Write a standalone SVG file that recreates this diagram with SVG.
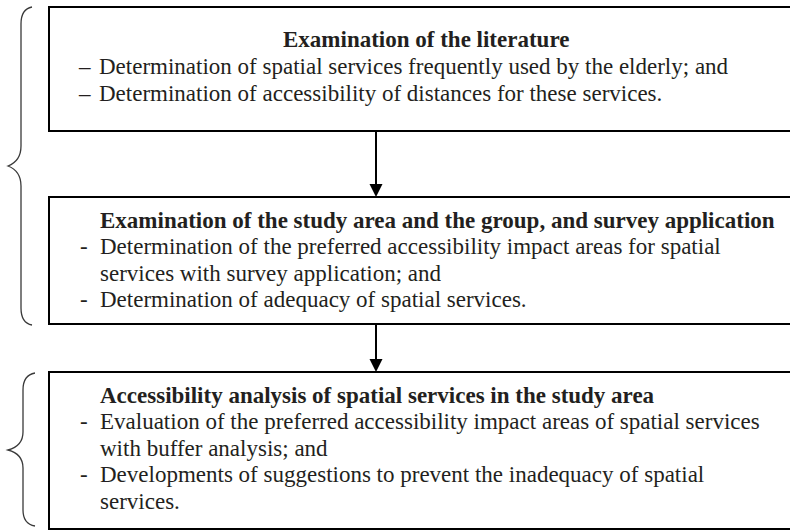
<svg xmlns="http://www.w3.org/2000/svg" width="790" height="530" viewBox="0 0 790 530">
  <defs>
    <style>
      .box { fill: #ffffff; stroke: #000000; stroke-width: 2; }
      .t { font-family: "Liberation Serif", "Times New Roman", serif; font-size: 23px; fill: #231f20; }
      .h { font-weight: bold; }
      .brace { fill: none; stroke: #3a3a3a; stroke-width: 1.3; }
      .conn { stroke: #000000; stroke-width: 2; fill: none; }
      .head { fill: #000000; stroke: none; }
    </style>
  </defs>
  <rect x="0" y="0" width="790" height="530" fill="#ffffff"/>

  <g id="braces">
    <path class="brace" d="M 32,7 Q 21,9 21,24 L 21,146 Q 21,161 8,166 Q 21,171 21,186 L 21,308 Q 21,323 32,325"/>
    <path class="brace" d="M 35,373 Q 23,375 23,390 L 23,432 Q 23,446 8,450 Q 23,454 23,468 L 23,510 Q 23,524 35,526"/>
  </g>

  <g id="node-literature">
    <rect class="box" x="49" y="7" width="760" height="124"/>
    <text class="t h" x="283" y="47">Examination of the literature</text>
    <text class="t" y="74"><tspan x="79">–</tspan><tspan x="99">Determination of spatial services frequently used by the elderly; and</tspan></text>
    <text class="t" y="100.7"><tspan x="79">–</tspan><tspan x="99">Determination of accessibility of distances for these services.</tspan></text>
  </g>

  <g id="node-study-area">
    <rect class="box" x="49" y="197" width="760" height="127"/>
    <text class="t h" x="100" y="227.5">Examination of the study area and the group, and survey application</text>
    <text class="t" y="254"><tspan x="80">-</tspan><tspan x="100">Determination of the preferred accessibility impact areas for spatial</tspan></text>
    <text class="t" x="100" y="280.5">services with survey application; and</text>
    <text class="t" y="307"><tspan x="80">-</tspan><tspan x="100">Determination of adequacy of spatial services.</tspan></text>
  </g>

  <g id="node-accessibility">
    <rect class="box" x="49" y="372" width="760" height="157"/>
    <text class="t h" x="100" y="402.5">Accessibility analysis of spatial services in the study area</text>
    <text class="t" y="429"><tspan x="80">-</tspan><tspan x="100">Evaluation of the preferred accessibility impact areas of spatial services</tspan></text>
    <text class="t" x="100" y="455.5">with buffer analysis; and</text>
    <text class="t" y="482"><tspan x="80">-</tspan><tspan x="100">Developments of suggestions to prevent the inadequacy of spatial</tspan></text>
    <text class="t" x="100" y="508.5">services.</text>
  </g>

  <g id="connectors">
    <line class="conn" x1="376" y1="131" x2="376" y2="185"/>
    <polygon class="head" points="369.5,184 382.5,184 376,197"/>
    <line class="conn" x1="376" y1="324" x2="376" y2="360"/>
    <polygon class="head" points="369.5,359 382.5,359 376,372"/>
  </g>
</svg>
